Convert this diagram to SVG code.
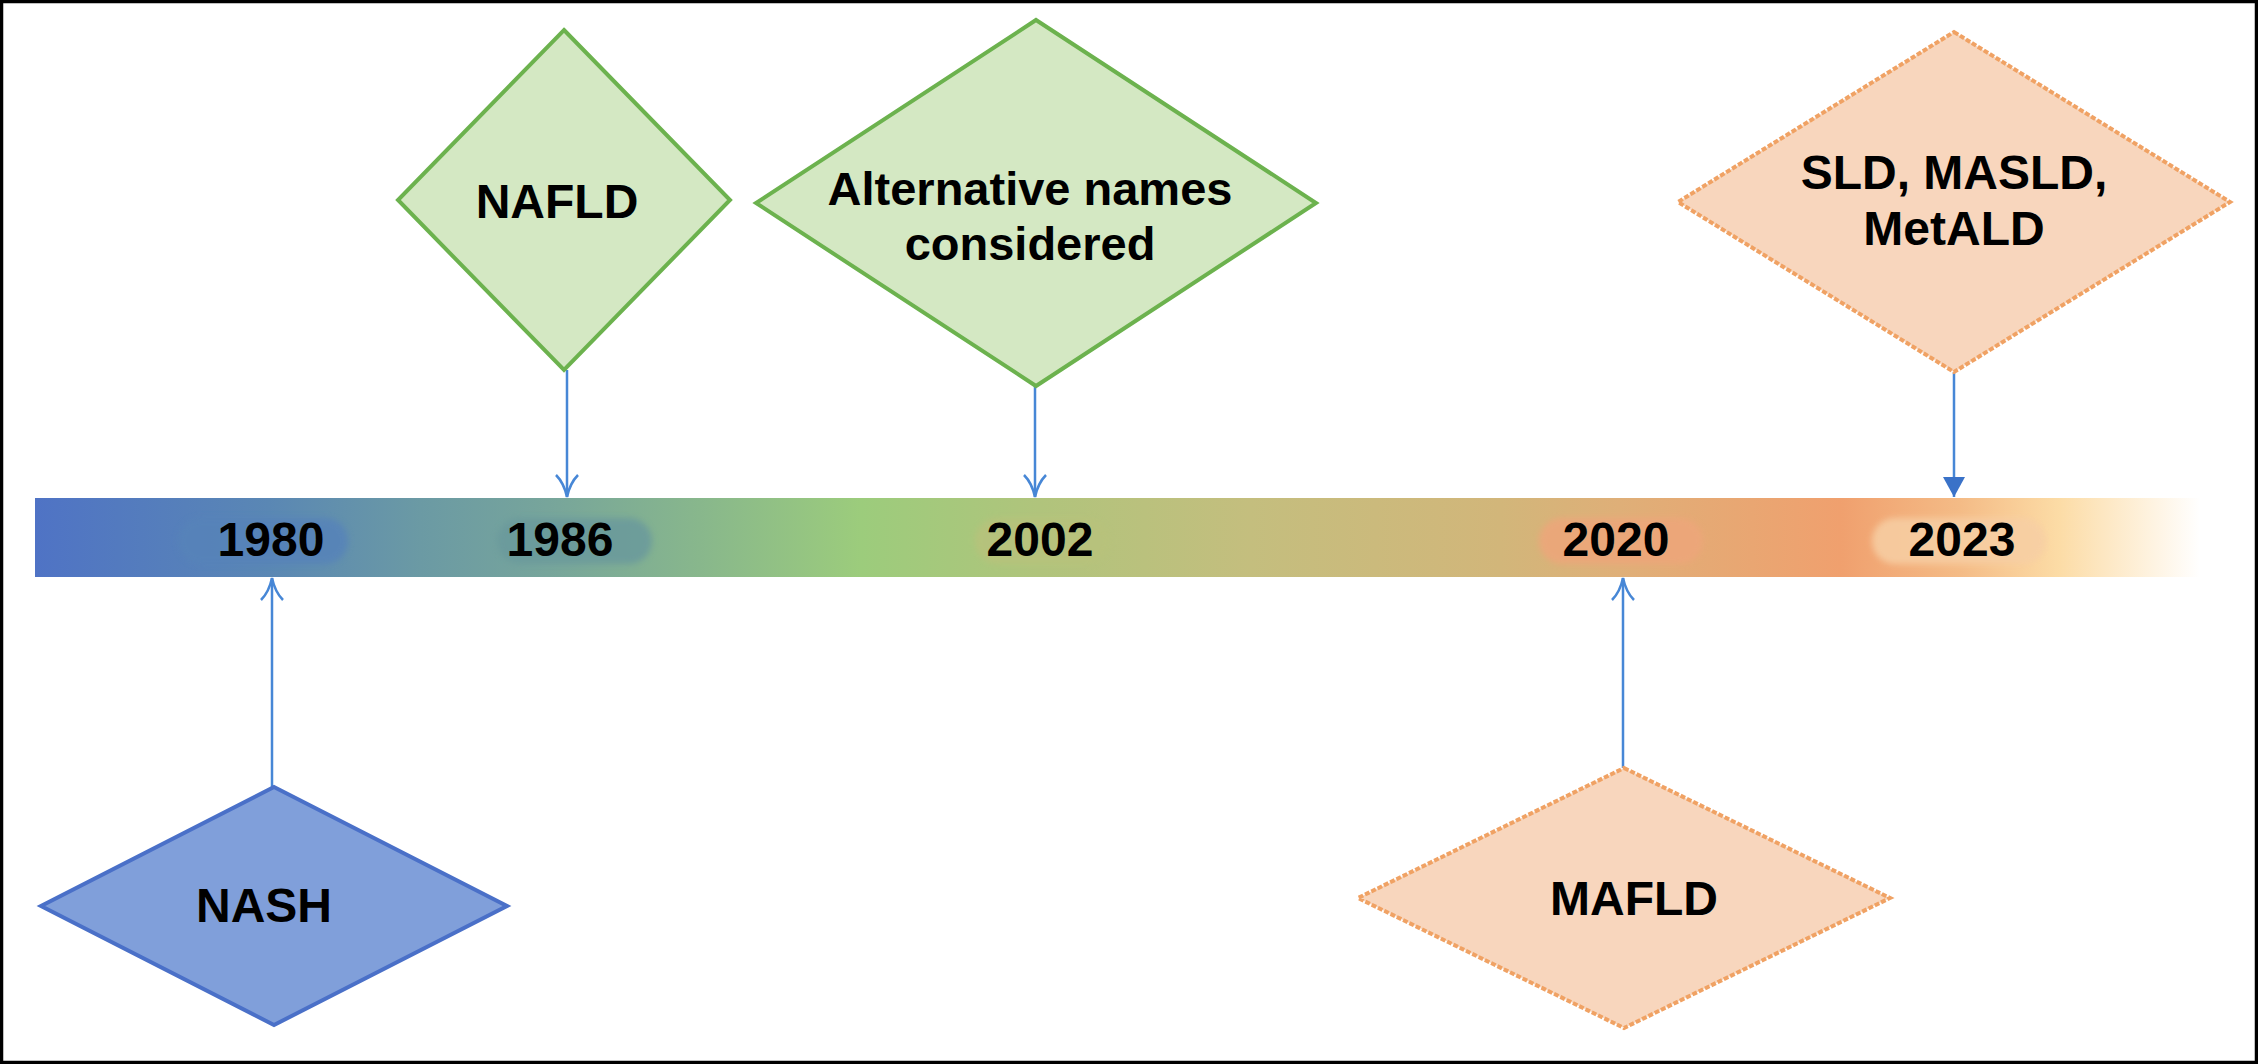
<svg xmlns="http://www.w3.org/2000/svg" width="2258" height="1064" viewBox="0 0 2258 1064">
  <style>
    .lbl { font-family: "Liberation Sans", Arial, sans-serif; font-weight: bold; font-size: 48px; fill: #000; text-anchor: middle; }
    .alt { font-size: 47px; }
    .green { fill: #d4e8c3; stroke: #6cb24e; stroke-width: 4; }
    .peach { fill: #f8d6bd; stroke: #f0a264; stroke-width: 4; stroke-dasharray: 5 2; }
    .blue { fill: #809fda; stroke: #4a70c8; stroke-width: 4; }
    .conn { stroke: #4787d6; stroke-width: 2.5; fill: none; }
  </style>
  <defs>
    <linearGradient id="bar" x1="35" y1="0" x2="2200" y2="0" gradientUnits="userSpaceOnUse">
      <stop offset="0" stop-color="#4f73c5"/>
      <stop offset="0.108" stop-color="#5a87b4"/>
      <stop offset="0.178" stop-color="#6b9aa4"/>
      <stop offset="0.242" stop-color="#78a69a"/>
      <stop offset="0.307" stop-color="#88b78c"/>
      <stop offset="0.381" stop-color="#9ccc7c"/>
      <stop offset="0.464" stop-color="#b0c47c"/>
      <stop offset="0.561" stop-color="#c4be7e"/>
      <stop offset="0.677" stop-color="#d2b67a"/>
      <stop offset="0.732" stop-color="#dfaf78"/>
      <stop offset="0.834" stop-color="#f0a06e"/>
      <stop offset="0.889" stop-color="#f4bb86"/>
      <stop offset="0.935" stop-color="#fcdca6"/>
      <stop offset="1" stop-color="#ffffff"/>
    </linearGradient>
    <filter id="soft" x="-20%" y="-40%" width="140%" height="180%">
      <feGaussianBlur stdDeviation="3"/>
    </filter>
    <marker id="openhead" viewBox="0 0 26 26" refX="24" refY="13" markerWidth="26" markerHeight="26" markerUnits="userSpaceOnUse" orient="auto">
      <path d="M2,2 Q10,10 24,13 Q10,16 2,24" fill="none" stroke="#4787d6" stroke-width="2.5"/>
    </marker>
    <marker id="filledhead" viewBox="0 0 22 24" refX="21" refY="12" markerWidth="22" markerHeight="24" markerUnits="userSpaceOnUse" orient="auto">
      <path d="M1,1 L21,12 L1,23 Z" fill="#3a72c8"/>
    </marker>
  </defs>

  <rect x="0" y="0" width="2258" height="1064" fill="#ffffff"/>
  <rect x="1.5" y="1.5" width="2255" height="1061" fill="none" stroke="#000" stroke-width="3.5"/>

  <g id="timeline">
    <rect x="35" y="498" width="2165" height="79" fill="url(#bar)"/>
    <g filter="url(#soft)" opacity="0.85">
      <rect x="178" y="518" width="170" height="46" rx="23" fill="#5683b9"/>
      <rect x="497" y="518" width="155" height="46" rx="23" fill="#6a9a9c"/>
      <rect x="975" y="518" width="135" height="46" rx="23" fill="#b8c27c"/>
      <rect x="1539" y="518" width="164" height="46" rx="23" fill="#eea67a"/>
      <rect x="1872" y="518" width="174" height="46" rx="23" fill="#f7cfa4"/>
    </g>
    <text class="lbl" x="271" y="556">1980</text>
    <text class="lbl" x="560" y="556">1986</text>
    <text class="lbl" x="1040" y="556">2002</text>
    <text class="lbl" x="1616" y="556">2020</text>
    <text class="lbl" x="1962" y="556">2023</text>
  </g>

  <g id="connectors">
    <line class="conn" x1="567" y1="370" x2="567" y2="497" marker-end="url(#openhead)"/>
    <line class="conn" x1="1035" y1="386" x2="1035" y2="497" marker-end="url(#openhead)"/>
    <line class="conn" x1="1954" y1="372" x2="1954" y2="497" marker-end="url(#filledhead)"/>
    <line class="conn" x1="272" y1="787" x2="272" y2="578" marker-end="url(#openhead)"/>
    <line class="conn" x1="1623" y1="768" x2="1623" y2="578" marker-end="url(#openhead)"/>
  </g>

  <g id="nafld">
    <polygon class="green" points="564,30 730,200 564,370 398,200"/>
    <text class="lbl" x="557" y="218">NAFLD</text>
  </g>

  <g id="alternative">
    <polygon class="green" points="1036,20 1316,203 1036,386 756,203"/>
    <text class="lbl alt" x="1030" y="205">Alternative names</text>
    <text class="lbl alt" x="1030" y="260">considered</text>
  </g>

  <g id="sld">
    <polygon class="peach" points="1954,32 2230,202 1954,372 1678,202"/>
    <text class="lbl" x="1954" y="189">SLD, MASLD,</text>
    <text class="lbl" x="1954" y="245">MetALD</text>
  </g>

  <g id="nash">
    <polygon class="blue" points="274,787 507,906 274,1025 41,906"/>
    <text class="lbl" x="264" y="922">NASH</text>
  </g>

  <g id="mafld">
    <polygon class="peach" points="1624,768 1890,898 1624,1028 1358,898"/>
    <text class="lbl" x="1634" y="915">MAFLD</text>
  </g>
</svg>
